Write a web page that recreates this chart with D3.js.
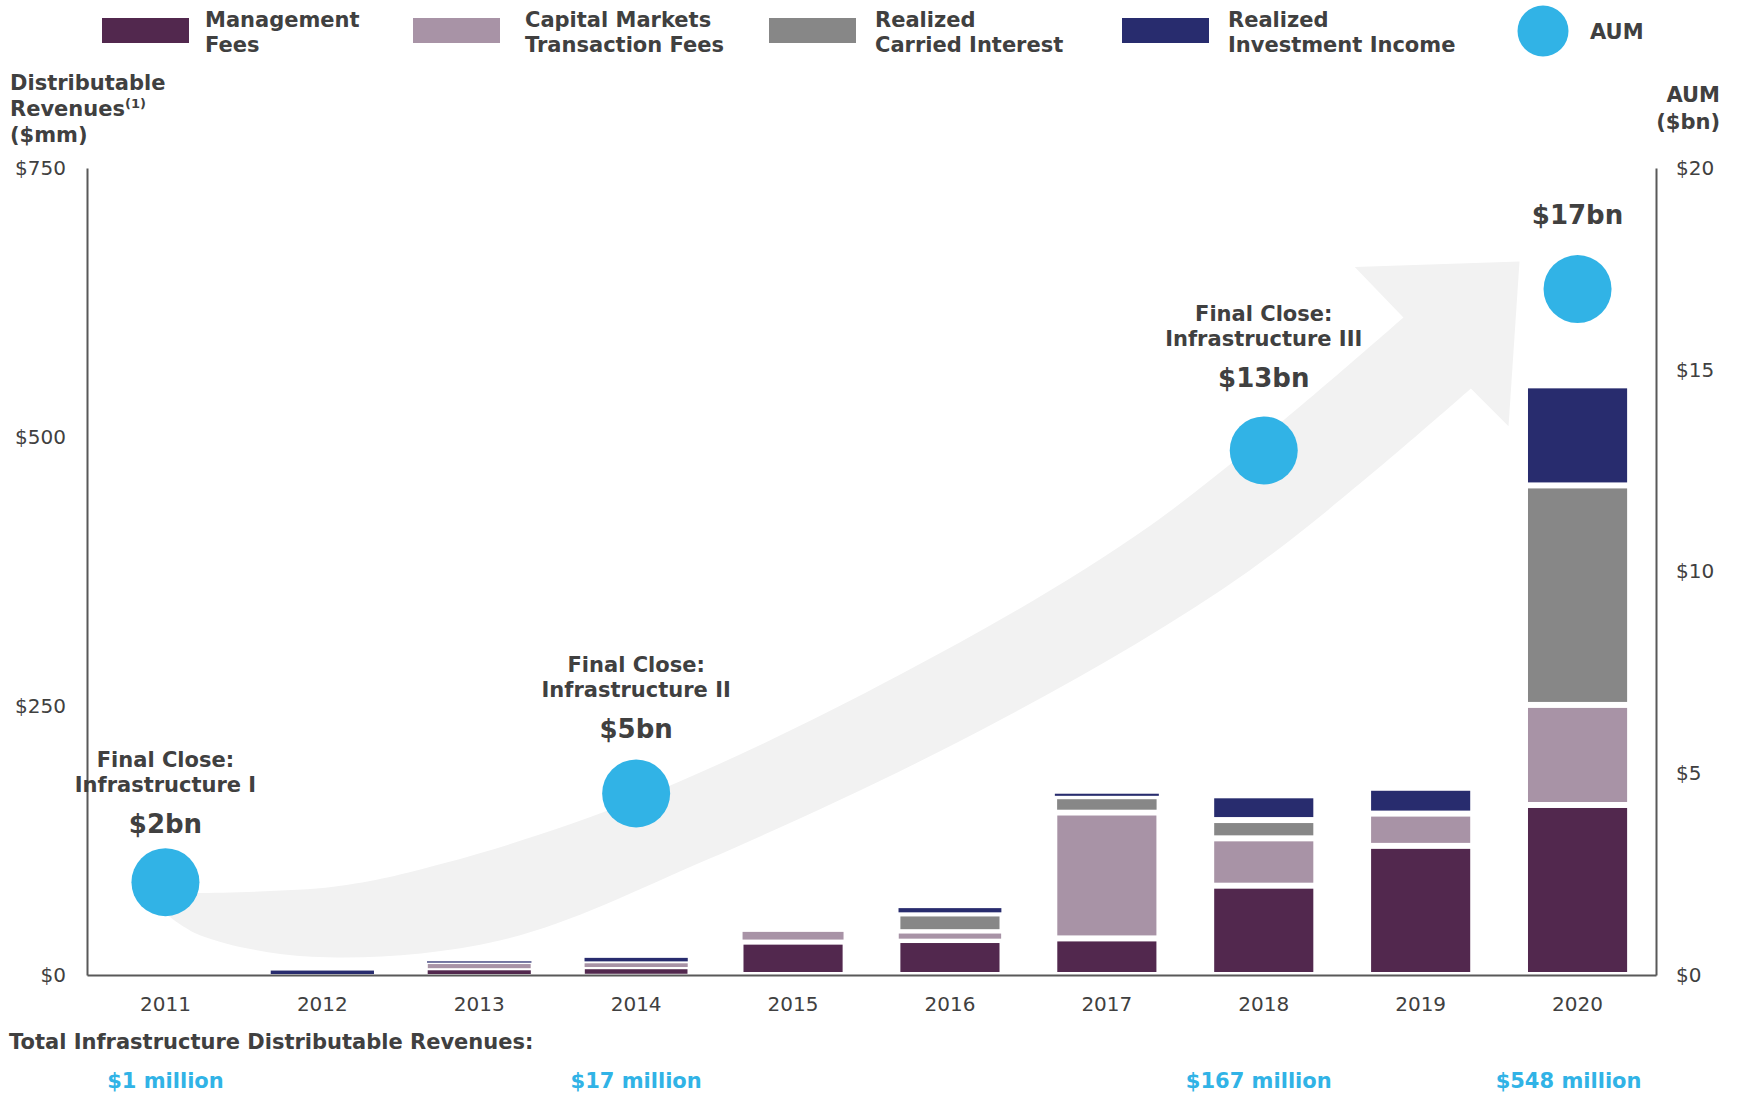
<!DOCTYPE html>
<html>
<head>
<meta charset="utf-8">
<script src="https://cdn.jsdelivr.net/npm/d3@7"></script>
<style>
  body { margin: 0; background: #fff; }
  svg { display: block; font-family: "DejaVu Sans", Verdana, sans-serif; }
  .axis text { font-family: "DejaVu Sans", Verdana, sans-serif; font-size: 20px; fill: #404040; }
  .axis path { stroke: #595959; stroke-width: 2; }
  .label { font-weight: bold; fill: #404040; }
</style>
</head>
<body>
<div id="chart"></div>
<script>
// Data ($mm)
const years = ["2011", "2012", "2013", "2014", "2015", "2016", "2017", "2018", "2019", "2020"];
const managementFees    = [1, 0, 5.3, 6.5, 31, 32.5, 34, 83, 120, 158];
const capitalMarketFees = [0, 0, 5.9, 5.3, 11, 7.3, 117, 44, 30, 93];
const carriedInterest   = [0, 0, 0, 0, 0, 17.4, 15, 17, 0, 204];
const investmentIncome  = [0, 5, 1.8, 5, 0, 6, 3, 23, 24, 93];

// AUM ($bn) at the fund closes
const aumYears  = ["2011", "2014", "2018", "2020"];
const aumValues = [2.3, 4.5, 13, 17];
const aumLabels = ["$2bn", "$5bn", "$13bn", "$17bn"];
const closeNames = ["Infrastructure I", "Infrastructure II", "Infrastructure III", null];

// Totals printed under the chart
const totalYears  = ["2011", "2014", "2018", "2020"];
const totalLabels = ["$1 million", "$17 million", "$167 million", "$548 million"];

// Axis ticks
const leftTicks  = [0, 250, 500, 750];
const rightTicks = [0, 5, 10, 15, 20];

const keys = ["mgmt", "cap", "carry", "inv"];
const legendNames = [["Management", "Fees"], ["Capital Markets", "Transaction Fees"],
                     ["Realized", "Carried Interest"], ["Realized", "Investment Income"]];
const colors = ["#52284e", "#a893a6", "#878787", "#282c6e"];
const aumColor = "#31b3e6";

const width = 1737, height = 1096;
const plot = { left: 87, right: 1656, top: 168, bottom: 975 };

const svg = d3.select("#chart")
  .append("svg")
    .attr("width", width)
    .attr("height", height);

/*    Scales    */
const xScale = d3.scaleBand()
  .domain(years)
  .range([plot.left, plot.right])
  .paddingInner(0.33)
  .paddingOuter(0.165);
const cx = d => xScale(d) + xScale.bandwidth() / 2;

const yScale = d3.scaleLinear().domain([0, 750]).range([plot.bottom, plot.top]);
const yRight = d3.scaleLinear().domain([0, 20]).range([plot.bottom, plot.top]);
const colorScale = d3.scaleOrdinal().domain(keys).range(colors);

// linear helper across the year bands, used for the decorative arrow
const xLin = d3.scaleLinear().domain([0, years.length]).range([plot.left, plot.right]);

/*    Background arrow (decoration, in band units / $mm)    */
const arrowUpper = [[0.51, 76], [1.57, 82], [2.28, 104], [3.5, 163], [5.18, 279], [6.78, 418], [8.39, 611]];
const arrowHead  = [[8.08, 658], [9.13, 663], [9.06, 510], [8.82, 545]];
const arrowLower = [[8.82, 545], [7.41, 376], [5.82, 237], [3.95, 107], [2.63, 32], [1.43, 17], [0.72, 37], [0.51, 56]];

const edge = d3.line()
  .x(d => xLin(d[0]))
  .y(d => yScale(d[1]))
  .curve(d3.curveCatmullRom);
const headPath = arrowHead.map(d => `L${xLin(d[0])},${yScale(d[1])}`).join("");
svg.append("path")
  .attr("d", edge(arrowUpper) + headPath + edge(arrowLower).replace(/^M/, "L") + "Z")
  .attr("fill", "#f2f2f2");

/*    Stacked bars    */
const rows = years.map((y, i) => ({
  year: y,
  mgmt: managementFees[i],
  cap: capitalMarketFees[i],
  carry: carriedInterest[i],
  inv: investmentIncome[i]
}));
const series = d3.stack().keys(keys)(rows);

svg.append("g")
  .selectAll("g")
  .data(series)
  .join("g")
    .attr("fill", d => colorScale(d.key))
  .selectAll("rect")
  .data(d => d.map(s => {
    const h = yScale(s[0]) - yScale(s[1]);
    const gap = Math.min(6, h * 0.35);
    return { year: s.data.year, top: yScale(s[1]), h, gap };
  }).filter(s => s.h - s.gap >= 1))
  .join("rect")
    .attr("x", d => xScale(d.year) + d.gap / 2)
    .attr("y", d => d.top + d.gap / 2)
    .attr("width", d => xScale.bandwidth() - d.gap)
    .attr("height", d => d.h - d.gap);

/*    Axes    */
svg.append("g")
  .attr("class", "axis")
  .attr("transform", `translate(${plot.left}, 0)`)
  .call(d3.axisLeft(yScale).tickValues(leftTicks).tickFormat(d => "$" + d)
    .tickSize(0).tickPadding(21));

svg.append("g")
  .attr("class", "axis")
  .attr("transform", `translate(${plot.right}, 0)`)
  .call(d3.axisRight(yRight).tickValues(rightTicks).tickFormat(d => "$" + d)
    .tickSize(0).tickPadding(20));

svg.append("g")
  .attr("class", "axis")
  .attr("transform", `translate(0, ${plot.bottom})`)
  .call(d3.axisBottom(xScale).tickSize(0).tickPadding(22));

/*    AUM circles and close annotations    */
const aum = aumYears.map((y, i) => ({ year: y, value: aumValues[i], label: aumLabels[i], name: closeNames[i] }));
const labelLift = [49, 55, 63, 65];

svg.selectAll(".aum")
  .data(aum)
  .join("circle")
    .attr("class", "aum")
    .attr("cx", d => cx(d.year))
    .attr("cy", d => yRight(d.value))
    .attr("r", 34)
    .attr("fill", aumColor);

const notes = svg.selectAll(".note")
  .data(aum)
  .join("g")
    .attr("class", "note")
    .attr("transform", (d, i) => `translate(${cx(d.year)}, ${yRight(d.value) - labelLift[i]})`);
notes.append("text")
  .attr("class", "label")
  .attr("text-anchor", "middle")
  .style("font-size", "26px")
  .text(d => d.label);
notes.filter(d => d.name)
  .append("text")
    .attr("class", "label")
    .attr("text-anchor", "middle")
    .attr("y", -41)
    .style("font-size", "21px")
    .text(d => d.name);
notes.filter(d => d.name)
  .append("text")
    .attr("class", "label")
    .attr("text-anchor", "middle")
    .attr("y", -66)
    .style("font-size", "21px")
    .text("Final Close:");

/*    Legend    */
const legendX = [102, 413, 769, 1122];
const legendTextX = [205, 525, 875, 1228];
const legend = svg.selectAll(".legend")
  .data(keys)
  .join("g")
    .attr("class", "legend");
legend.append("rect")
  .attr("x", (d, i) => legendX[i])
  .attr("y", 18)
  .attr("width", 87)
  .attr("height", 25)
  .attr("fill", d => colorScale(d));
legend.each(function(d, i) {
  legendNames[i].forEach((line, j) => {
    d3.select(this).append("text")
      .attr("class", "label")
      .attr("x", legendTextX[i])
      .attr("y", 27 + j * 25)
      .style("font-size", "21px")
      .text(line);
  });
});
svg.append("circle")
  .attr("cx", 1543)
  .attr("cy", 31)
  .attr("r", 25.5)
  .attr("fill", aumColor);
svg.append("text")
  .attr("class", "label")
  .attr("x", 1590)
  .attr("y", 39)
  .style("font-size", "21px")
  .text("AUM");

/*    Axis titles    */
const leftTitle = svg.append("text")
  .attr("class", "label")
  .style("font-size", "21px");
leftTitle.append("tspan").attr("x", 10).attr("y", 90).text("Distributable");
leftTitle.append("tspan").attr("x", 10).attr("y", 116).text("Revenues");
leftTitle.append("tspan").attr("dy", -8).style("font-size", "13px").text("(1)");
leftTitle.append("tspan").attr("x", 10).attr("y", 142).text("($mm)");

const rightTitle = svg.append("text")
  .attr("class", "label")
  .attr("text-anchor", "end")
  .style("font-size", "21px");
rightTitle.append("tspan").attr("x", 1720).attr("y", 102).text("AUM");
rightTitle.append("tspan").attr("x", 1720).attr("y", 129).text("($bn)");

/*    Totals under the chart    */
svg.append("text")
  .attr("class", "label")
  .attr("x", 9)
  .attr("y", 1049)
  .style("font-size", "21px")
  .text("Total Infrastructure Distributable Revenues:");

const totalNudge = [0, 0, -5, -9];
svg.selectAll(".total")
  .data(totalYears)
  .join("text")
    .attr("class", "total")
    .attr("x", (d, i) => cx(d) + totalNudge[i])
    .attr("y", 1088)
    .attr("text-anchor", "middle")
    .style("font-size", "21px")
    .style("font-weight", "bold")
    .attr("fill", aumColor)
    .text((d, i) => totalLabels[i]);
</script>
</body>
</html>
